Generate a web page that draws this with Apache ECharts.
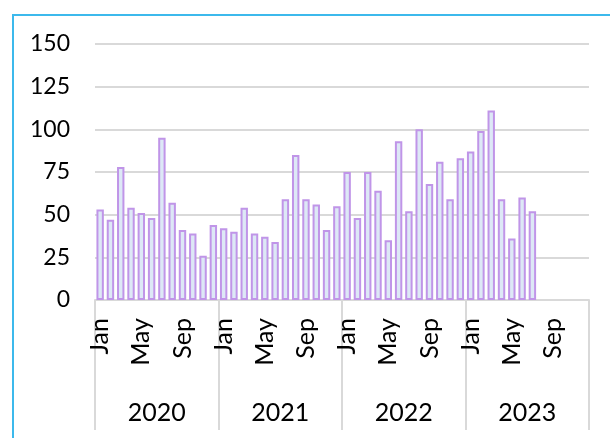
<!DOCTYPE html>
<html>
<head>
<meta charset="UTF-8">
<title>Monthly bars</title>
<script src="https://cdn.jsdelivr.net/npm/echarts@6/dist/echarts.min.js"></script>
<style>
    body { margin: 0; padding: 0; background: #fff; }
    #main { width: 610px; height: 438px; }
</style>
</head>
<body>
<div id="main"></div>
<script type="text/javascript">
// x axis: months (48 slots) and years
var months = ['Jan','Feb','Mar','Apr','May','Jun','Jul','Aug','Sep','Oct','Nov','Dec'];
var years = ['2020','2021','2022','2023'];
var yTicks = [0, 25, 50, 75, 100, 125, 150];

// values, one per month
var v2020 = [53, 47, 78, 54, 51, 48, 95, 57, 41, 39, 26, 44];
var v2021 = [42, 40, 54, 39, 37, 34, 59, 85, 59, 56, 41, 55];
var v2022 = [75, 48, 75, 64, 35, 93, 52, 100, 68, 81, 59, 83];
var v2023 = [87, 99, 111, 59, 36, 60, 52];

var xm = [];
years.forEach(function (y) { months.forEach(function (m) { xm.push(m); }); });
var yv = v2020.concat(v2021, v2022, v2023);

var myChart = echarts.init(document.getElementById('main'));
var font = 'Lato';
var option = {
    animation: false,
    backgroundColor: '#fff',
    graphic: [{
        type: 'rect',
        shape: { x: 13, y: 15, width: 700, height: 500 },
        style: { fill: 'none', stroke: '#3cb9ec', lineWidth: 2 }
    }],
    grid: { left: 95, right: 21, top: 44, bottom: 138 },
    xAxis: [{
        type: 'category',
        data: xm,
        axisLine: { lineStyle: { color: '#d9d9d9', width: 2 } },
        axisTick: { show: false },
        axisLabel: {
            interval: 3, rotate: 90, margin: 18,
            color: '#000', fontFamily: font, fontSize: 25
        }
    }, {
        type: 'category',
        data: years,
        position: 'bottom',
        axisLine: { show: false },
        axisTick: { show: true, length: 130, lineStyle: { color: '#d9d9d9', width: 2 } },
        axisLabel: { margin: 100, color: '#000', fontFamily: font, fontSize: 25 }
    }],
    yAxis: {
        type: 'value',
        min: yTicks[0], max: yTicks[yTicks.length - 1], interval: 25,
        axisLine: { show: false },
        axisTick: { show: false },
        splitLine: { lineStyle: { color: '#d9d9d9', width: 2 } },
        axisLabel: { margin: 25, color: '#000', fontFamily: font, fontSize: 23 }
    },
    series: [{
        type: 'bar',
        xAxisIndex: 0,
        data: yv,
        barCategoryGap: '28%',
        itemStyle: { color: '#dde8f6', borderColor: '#c095e8', borderWidth: 2 }
    }]
};
myChart.setOption(option);
</script>
</body>
</html>
